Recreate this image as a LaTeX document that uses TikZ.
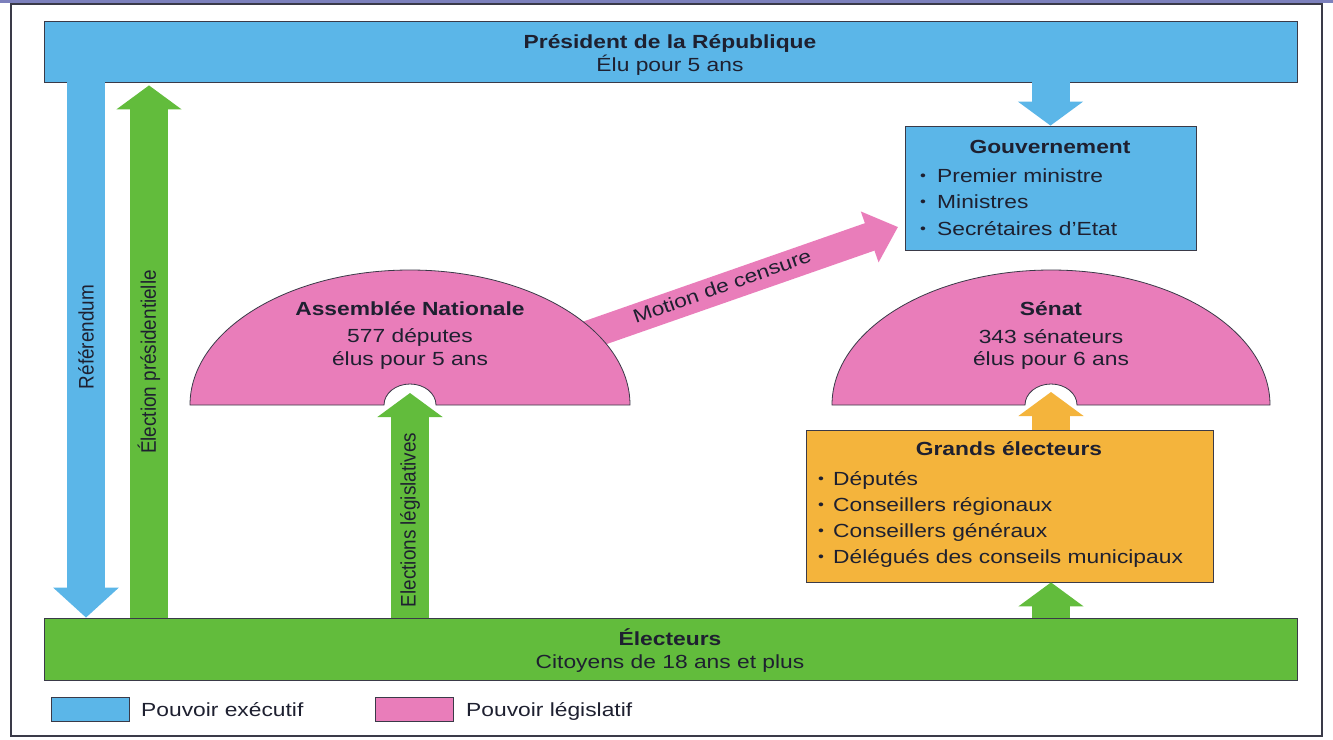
\documentclass[tikz,border=0pt]{standalone}
\usepackage{fontspec}
\setmainfont{Liberation Sans}[FakeStretch=1.2]
\newfontfamily\vfont{Liberation Sans}[FakeStretch=0.9]
\usetikzlibrary{arrows.meta,calc}
\definecolor{cblue}{HTML}{5BB6E8}
\definecolor{cgreen}{HTML}{62BC3C}
\definecolor{cpink}{HTML}{E97DBA}
\definecolor{corange}{HTML}{F4B43C}
\definecolor{ctext}{HTML}{1E2030}
\definecolor{cline}{HTML}{3A3A48}
\definecolor{cstrip}{HTML}{7C80BC}
\newcommand\bulg[1]{\makebox[#1][l]{\raisebox{1.5pt}{\fontsize{14}{14}\selectfont •}}}
\begin{document}
\begin{tikzpicture}[x=1pt,y=-1pt,
  box/.style={draw=cline, line width=0.8pt, inner sep=0pt},
  txt/.style={text=ctext, inner sep=0pt, anchor=base, font=\fontsize{19}{23}\selectfont},
  ltxt/.style={txt, anchor=base west},
  vtxt/.style={text=ctext, inner sep=0pt, rotate=90, font=\vfont\fontsize{21}{23}\selectfont},
  blk/.style={line width=38pt, draw=#1, -{Triangle[length=24pt,width=64pt]}},
  shp/.style={draw=cline, line width=0.8pt, fill=cpink}]
\useasboundingbox (0,0) rectangle (1333,739);
\fill[white] (0,0) rectangle (1333,739);
\fill[cstrip] (0,0) rectangle (1333,3);
\draw[line width=1.6pt, cline] (11,4) rectangle (1322,736);

% boxes
\node[box, fill=cblue, minimum width=1253pt, minimum height=61pt] (pres) at (670.5,51.5) {};
\node[box, fill=cgreen, minimum width=1253pt, minimum height=62pt] (elec) at (670.5,649) {};
\node[box, fill=cblue, minimum width=291pt, minimum height=124pt] (gov) at (1050.5,188) {};
\node[box, fill=corange, minimum width=407pt, minimum height=152pt] (grands) at (1009.5,506) {};

% coordinates
\coordinate (an) at (410,405);
\coordinate (sen) at (1051,405);
\coordinate (refx) at (86,0);
\coordinate (prx) at (149,0);
\coordinate (mtail) at (560,345);
\coordinate (mtip) at (898,227);

% arrows
\draw[blk=cblue, -{Triangle[length=30pt,width=64pt]}] (pres.south -| refx) -- (elec.north -| refx);
\draw[blk=cgreen] (elec.north -| prx) -- ($(pres.south -| prx)+(0,3)$);
\draw[blk=cblue] (pres.south -| gov.north) -- (gov.north);
\draw[blk=cgreen] (elec.north -| an) -- ($(an)+(0,-12)$);
\draw[blk=corange] (grands.north -| sen) -- ($(sen)+(0,-13)$);
\draw[blk=cgreen] (elec.north -| sen) -- (grands.south -| sen);
\draw[line width=29pt, draw=cpink, -{Triangle[length=30pt,width=52pt]}] (mtail) -- (mtip);

% half-circles
\draw[shp] ($(an)+(-220,0)$) arc[start angle=180, end angle=0, x radius=220pt, y radius=135pt]
  -- ($(an)+(26,0)$) arc[start angle=0, end angle=180, x radius=26pt, y radius=21pt] -- cycle;
\draw[shp] ($(sen)+(-219,0)$) arc[start angle=180, end angle=0, x radius=219pt, y radius=135pt]
  -- ($(sen)+(26,0)$) arc[start angle=0, end angle=180, x radius=26pt, y radius=21pt] -- cycle;

% texts
\node[txt] (prest) at (670,48) {\bfseries Président de la République};
\node[txt] (presu) at (670,71) {Élu pour 5 ans};
\node[txt] (elect) at (670,645) {\bfseries Électeurs};
\node[txt] (elecu) at (670,668) {Citoyens de 18 ans et plus};

\node[txt] (govt) at (1050,153) {\bfseries Gouvernement};
\node[ltxt] (gov1) at (920,182) {\bulg{17pt}Premier ministre};
\node[ltxt] (gov2) at (920,208) {\bulg{17pt}Ministres};
\node[ltxt] (gov3) at (920,235) {\bulg{17pt}Secrétaires d’Etat};

\node[txt] (ant) at (410,315) {\bfseries Assemblée Nationale};
\node[txt] (an1) at (410,342) {577 députes};
\node[txt] (an2) at (410,365) {élus pour 5 ans};

\node[txt] (sent) at (1051,315) {\bfseries Sénat};
\node[txt] (sen1) at (1051,343) {343 sénateurs};
\node[txt] (sen2) at (1051,365) {élus pour 6 ans};

\node[txt] (grt) at (1009,455) {\bfseries Grands électeurs};
\node[ltxt] (gr1) at (818,485) {\bulg{15pt}Députés};
\node[ltxt] (gr2) at (818,511) {\bulg{15pt}Conseillers régionaux};
\node[ltxt] (gr3) at (818,537) {\bulg{15pt}Conseillers généraux};
\node[ltxt] (gr4) at (818,563) {\bulg{15pt}Délégués des conseils municipaux};

\node[vtxt] (lref) at (86,337) {Référendum};
\node[vtxt] (lpres) at (149,362) {Élection présidentielle};
\node[vtxt] (lleg) at (410,520) {Elections législatives};
\node[txt, anchor=center, rotate=19.5] (lmot) at (722,286) {Motion de censure};

% legend
\node[box, fill=cblue, minimum width=78pt, minimum height=24pt] (legb) at (90,709) {};
\node[ltxt] (legbt) at (141,716) {Pouvoir exécutif};
\node[box, fill=cpink, minimum width=78pt, minimum height=24pt] (legp) at (414,709) {};
\node[ltxt] (legpt) at (466,716) {Pouvoir législatif};
\end{tikzpicture}
\end{document}
